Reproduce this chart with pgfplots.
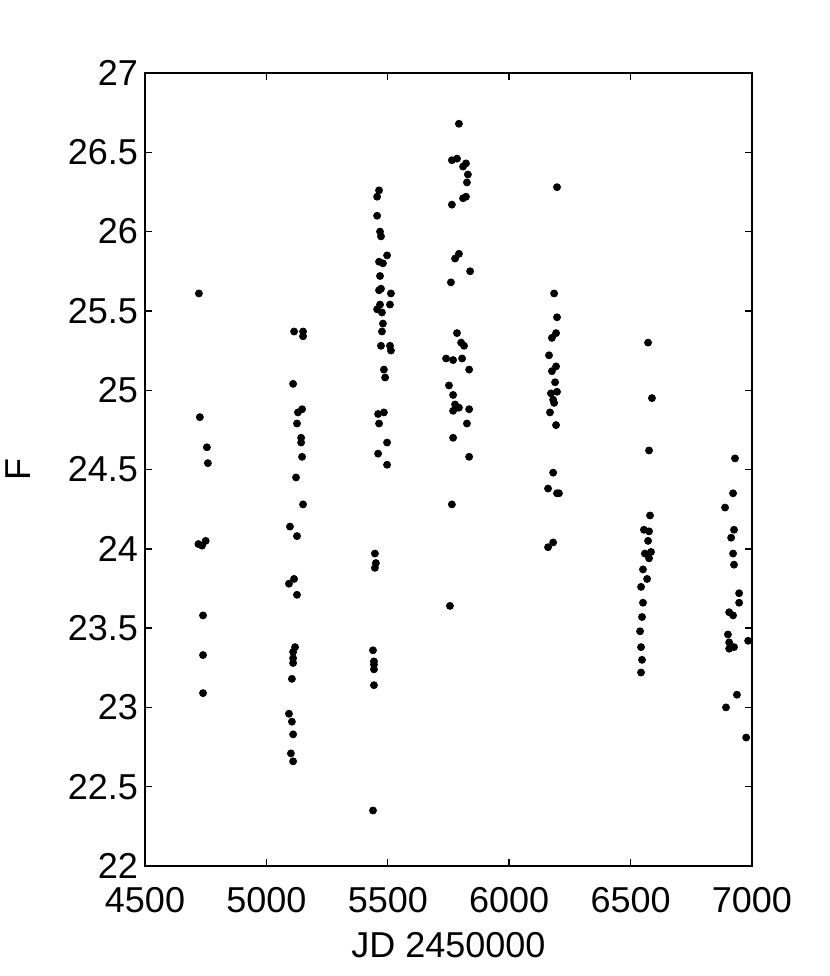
\documentclass[border=0pt]{standalone}
\usepackage{fontspec}
\setmainfont{Liberation Sans}
\usepackage{pgfplots}
\pgfplotsset{compat=1.18}

\pgfplotstableread{
jd F
4722 25.61
4726 24.83
4755 24.64
4759 24.54
4720 24.03
4735 24.02
4750 24.05
4739 23.58
4739 23.33
4739 23.09
5114 25.37
5151 25.37
5151 25.34
5110 25.04
5147 24.88
5130 24.86
5126 24.79
5143 24.70
5143 24.67
5147 24.58
5122 24.45
5151 24.28
5097 24.14
5126 24.08
5114 23.81
5093 23.78
5126 23.71
5118 23.38
5110 23.35
5110 23.31
5110 23.28
5105 23.18
5093 22.96
5105 22.91
5110 22.83
5101 22.71
5110 22.66
5464 26.26
5456 26.22
5456 26.10
5468 26.00
5472 25.97
5497 25.85
5464 25.81
5480 25.80
5468 25.72
5472 25.64
5464 25.63
5513 25.61
5509 25.54
5468 25.54
5456 25.51
5476 25.49
5480 25.42
5476 25.37
5472 25.28
5509 25.28
5513 25.25
5484 25.13
5489 25.08
5484 24.86
5460 24.85
5464 24.79
5497 24.67
5460 24.60
5497 24.53
5447 23.97
5451 23.91
5447 23.88
5439 23.36
5443 23.29
5443 23.27
5443 23.24
5443 23.14
5439 22.35
5793 26.68
5764 26.45
5785 26.46
5810 26.41
5822 26.43
5830 26.36
5826 26.31
5810 26.21
5822 26.22
5764 26.17
5793 25.86
5777 25.83
5839 25.75
5760 25.68
5785 25.36
5802 25.30
5814 25.28
5740 25.20
5769 25.19
5806 25.20
5835 25.13
5752 25.03
5769 24.97
5777 24.91
5769 24.87
5785 24.89
5793 24.89
5835 24.88
5826 24.79
5769 24.70
5835 24.58
5764 24.28
5756 23.64
6197 26.28
6185 25.61
6197 25.46
6193 25.36
6176 25.33
6164 25.22
6193 25.15
6176 25.12
6189 25.05
6197 24.99
6172 24.98
6181 24.94
6185 24.92
6168 24.86
6193 24.78
6181 24.48
6160 24.38
6197 24.35
6205 24.35
6160 24.01
6181 24.04
6572 25.30
6588 24.95
6576 24.62
6580 24.21
6555 24.12
6576 24.11
6572 24.05
6559 23.97
6584 23.98
6576 23.94
6551 23.87
6568 23.81
6543 23.76
6551 23.66
6547 23.57
6539 23.48
6543 23.38
6547 23.30
6543 23.22
6930 24.57
6922 24.35
6889 24.26
6926 24.12
6914 24.07
6922 23.97
6926 23.90
6947 23.72
6947 23.66
6906 23.60
6922 23.58
6901 23.46
6906 23.41
6906 23.37
6926 23.38
6984 23.42
6938 23.08
6893 23.00
6976 22.81
}\lightcurve

\begin{document}
\begin{tikzpicture}
\begin{axis}[
  name=ax,
  scale only axis,
  width=303.5pt,
  height=396.5pt,
  xmin=4500, xmax=7000,
  ymin=22, ymax=27,
  xtick={4500,5000,...,7000},
  ytick={22,22.5,...,27},
  scaled ticks=false,
  /pgf/number format/assume math mode=true,
  xticklabel style={/pgf/number format/1000 sep={}, yshift=-7pt},
  yticklabel style={/pgf/number format/fixed},
  tick label style={font=\fontsize{18}{21}\selectfont},
  label style={font=\fontsize{18}{21}\selectfont},
  xlabel={JD 2450000},
  ylabel={F},
  xlabel style={at={(axis description cs:0.5,-0.1)}, anchor=center},
  ylabel style={at={(axis description cs:-0.209,0.5)}, anchor=center},
  tick align=inside,
  major tick length=3.5pt,
  axis line style={line width=0.8pt},
  tick style={line width=0.7pt, black},
  clip=false,
]
\addplot[only marks, mark=*, mark size=1.75pt, black] table[x=jd, y=F] {\lightcurve};
\end{axis}
\pgfresetboundingbox
\path ([shift={(-72.5pt,-55pt)}]ax.south west) rectangle ([shift={(39pt,36.5pt)}]ax.north east);
\end{tikzpicture}
\end{document}
